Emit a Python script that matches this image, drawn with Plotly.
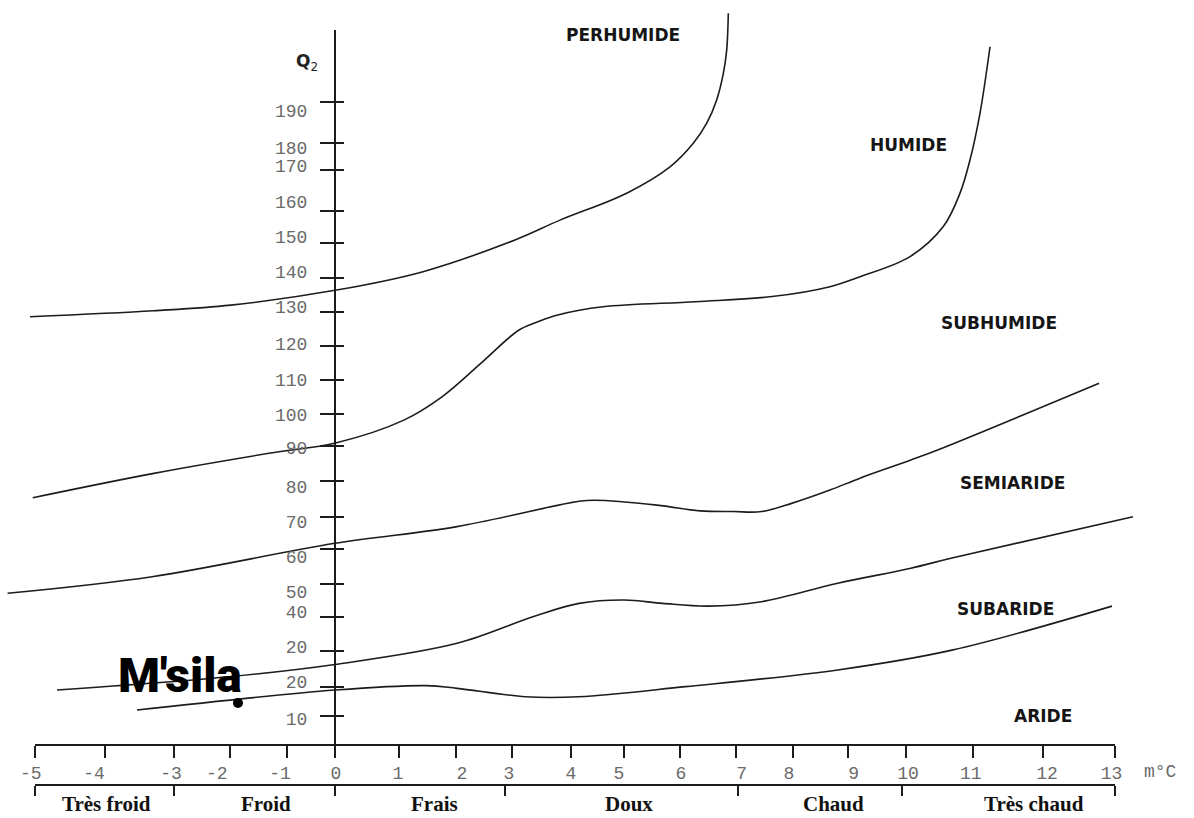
import plotly.graph_objects as go

# ---------------- data ----------------
# mean minimum temperature of the coldest month (m, °C) axis
TEMP_TICK_LABELS = ['-5', '-4', '-3', '-2', '-1', '0', '1', '2', '3', '4', '5', '6',
                    '7', '8', '9', '10', '11', '12', '13']
TEMP_TICK_POS = [-5.0, -3.833, -2.683, -1.749, -0.799, 0.0, 1.069, 2.019, 2.948, 3.936,
                 4.820, 5.754, 6.688, 7.633, 8.555, 9.522, 10.639, 11.806, 13.0]
TEMP_LABEL_POS = [-5.070, -4.016, -2.733, -1.971, -0.915, 0.015, 1.052, 2.119, 2.903,
                  3.936, 4.737, 5.767, 6.782, 7.571, 8.650, 9.555, 10.600, 11.872, 12.948]

# Emberger quotient Q2 axis
Q2_TICK_LABELS = ['190', '180', '170', '160', '150', '140', '130', '120', '110', '100',
                  '90', '80', '70', '60', '50', '40', '20', '20', '10']
Q2_TICK_POS = [190.0, 177.8, 170.0, 158.1, 148.5, 138.4, 128.5, 118.5, 108.4, 98.4,
               89.1, 78.9, 68.4, 58.8, 48.7, 39.1, 29.0, 18.6, 10.0]
Q2_LABEL_POS = [187.3, 176.5, 171.2, 160.7, 150.4, 140.2, 129.9, 119.0, 108.5, 98.4,
                88.5, 77.2, 66.8, 56.7, 46.3, 40.5, 30.3, 20.0, 9.1]

# thermal variants (lower scale)
THERMAL_BOUNDS = [-5.0, -2.683, 0.0, 2.836, 6.716, 9.460, 13.0]
THERMAL_NAMES = ['Très froid', 'Froid', 'Frais', 'Doux', 'Chaud', 'Très chaud']
THERMAL_LABEL_POS = [-3.816, -1.149, 1.660, 4.905, 8.305, 11.657]

# bioclimatic limits (m °C, Q2)
PERHUMIDE_HUMIDE_T = [-5.083, -3.019, -1.736, 0.027, 1.469, 3.003, 3.753, 4.865, 5.587,
                      5.975, 6.199, 6.365, 6.476, 6.532, 6.559]
PERHUMIDE_HUMIDE_Q = [127.0, 128.75, 130.4, 134.8, 140.2, 149.5, 155.3, 163.2, 170.9,
                      177.8, 183.7, 190.5, 198.3, 205.1, 215.9]

HUMIDE_SUBHUMIDE_T = [-5.038, -3.019, -1.099, 0.027, 1.149, 1.791, 2.432, 3.069, 3.395,
                      3.715, 4.470, 6.010, 7.288, 8.254, 8.755, 9.588, 10.143, 10.422,
                      10.588, 10.755, 10.922]
HUMIDE_SUBHUMIDE_Q = [73.96, 81.1, 86.97, 90.08, 96.7, 103.6, 113.3, 123.1, 125.6,
                      127.5, 129.9, 131.4, 132.9, 135.8, 138.7, 144.6, 153.4, 163.2,
                      172.9, 186.6, 206.1]

SUBHUMIDE_SEMIARIDE_T = [-5.457, -3.049, 0.002, 2.036, 4.070, 4.330, 5.370, 6.087, 6.651,
                         7.114, 7.613, 8.254, 8.755, 9.602, 10.113, 12.741]
SUBHUMIDE_SEMIARIDE_Q = [45.95, 50.8, 60.6, 65.5, 72.9, 73.2, 71.8, 70.1, 69.9,
                         69.9, 72.3, 76.2, 79.7, 85.0, 88.4, 107.5]

SEMIARIDE_SUBARIDE_T = [-4.633, -1.774, 0.002, 2.036, 3.303, 4.070, 4.828, 5.463, 6.220,
                        7.114, 8.384, 9.602, 10.288, 13.306]
SEMIARIDE_SUBARIDE_Q = [17.6, 21.5, 25.1, 31.3, 39.1, 43.0, 44.0, 43.0, 42.2,
                        43.5, 48.9, 53.3, 56.3, 68.4]

SUBARIDE_ARIDE_T = [-3.299, 0.002, 1.527, 2.036, 3.178, 4.066, 5.845, 8.384, 10.288, 12.956]
SUBARIDE_ARIDE_Q = [11.75, 17.6, 18.9, 18.1, 15.65, 15.65, 18.6, 23.5, 29.3, 42.2]

ZONE_NAMES = ['PERHUMIDE', 'HUMIDE', 'SUBHUMIDE', 'SEMIARIDE', 'SUBARIDE', 'ARIDE']
ZONE_LABEL_T = [4.803, 9.560, 11.070, 11.300, 11.172, 11.810]
ZONE_LABEL_Q = [209.5, 177.3, 125.2, 78.4, 41.5, 10.0]

STATION_NAME = "M'sila"
STATION_T = [-1.616]
STATION_Q = [13.8]
STATION_LABEL_T = -2.583
STATION_LABEL_Q = 22.0

# ---------------- geometry of the page ----------------
W, H = 1194, 818
PX_X0, PX_PER_DEG = 334.9, 59.98      # pixel of m = 0, pixels per unit
PX_Q0, PX_PER_Q = 750.128, 3.4128     # pixel of Q2 = 0, pixels per unit


def t_at(px):
    return (px - PX_X0) / PX_PER_DEG


def q_at(py):
    return (PX_Q0 - py) / PX_PER_Q


AXIS_X_PX = 745      # main horizontal axis
THERM_X_PX = 785     # thermal-variant scale line
THERM_LABEL_PX = 804
Y_TOP_PX, Y_BOT_PX = 30, 758

INK = '#1c1c1c'
TICK_FONT = dict(family='Liberation Mono, DejaVu Sans Mono, monospace', size=18, color='#6a6a6a')

fig = go.Figure()

curves = [
    (PERHUMIDE_HUMIDE_T, PERHUMIDE_HUMIDE_Q),
    (HUMIDE_SUBHUMIDE_T, HUMIDE_SUBHUMIDE_Q),
    (SUBHUMIDE_SEMIARIDE_T, SUBHUMIDE_SEMIARIDE_Q),
    (SEMIARIDE_SUBARIDE_T, SEMIARIDE_SUBARIDE_Q),
    (SUBARIDE_ARIDE_T, SUBARIDE_ARIDE_Q),
]
for t, q in curves:
    fig.add_trace(go.Scatter(x=t, y=q, mode='lines', xaxis='x', yaxis='y',
                             line=dict(color=INK, width=1.6, shape='spline', smoothing=1.0),
                             hoverinfo='skip', showlegend=False))

fig.add_trace(go.Scatter(x=STATION_T, y=STATION_Q, mode='markers', xaxis='x', yaxis='y',
                         marker=dict(size=10, color='black'), showlegend=False,
                         name=STATION_NAME))

# helper traces so that the drawn axes exist
for xa, ya in [('x2', 'y2'), ('x3', 'y2'), ('x2', 'y3')]:
    fig.add_trace(go.Scatter(x=[None], y=[None], xaxis=xa, yaxis=ya, mode='lines',
                             showlegend=False, hoverinfo='skip'))

x_dom = [(PX_X0 + PX_PER_DEG * THERMAL_BOUNDS[0]) / W, (PX_X0 + PX_PER_DEG * THERMAL_BOUNDS[-1]) / W]
y_dom = [(H - Y_BOT_PX) / H, (H - Y_TOP_PX) / H]
y_pos = PX_X0 / W

common = dict(showgrid=False, zeroline=False, tickmode='array')

annotations = []
for name, t, q in zip(ZONE_NAMES, ZONE_LABEL_T, ZONE_LABEL_Q):
    annotations.append(dict(x=t, y=q, xref='x', yref='y', text=name, showarrow=False,
                            xanchor='center', yanchor='middle',
                            font=dict(family='DejaVu Sans, Liberation Sans, sans-serif',
                                      size=17, color='#151515', weight='bold')))
for name, t in zip(THERMAL_NAMES, THERMAL_LABEL_POS):
    annotations.append(dict(x=t, y=(H - THERM_LABEL_PX) / H, xref='x', yref='paper', text=name,
                            showarrow=False, xanchor='center', yanchor='middle',
                            font=dict(family='Liberation Serif, DejaVu Serif, serif',
                                      size=21, color='#111', weight='bold')))
annotations.append(dict(x=t_at(1160), y=(H - 772) / H, xref='x', yref='paper', text='m°C',
                        showarrow=False, xanchor='center', yanchor='middle', font=TICK_FONT))
annotations.append(dict(x=t_at(307), y=q_at(62), xref='x', yref='y',
                        text='<b>Q</b><sub>2</sub>', showarrow=False,
                        xanchor='center', yanchor='middle',
                        font=dict(family='DejaVu Sans, sans-serif', size=17, color='#222')))
annotations.append(dict(x=STATION_LABEL_T, y=STATION_LABEL_Q, xref='x', yref='y',
                        text=STATION_NAME, showarrow=False, xanchor='center', yanchor='middle',
                        font=dict(family='Roboto, Liberation Sans, sans-serif',
                                  size=48, color='black', weight=900)))

fig.update_layout(
    width=W, height=H, autosize=False,
    margin=dict(l=0, r=0, t=0, b=0, pad=0),
    paper_bgcolor='white', plot_bgcolor='rgba(0,0,0,0)',
    showlegend=False,
    xaxis=dict(domain=[0, 1], range=[t_at(0), t_at(W)], anchor='free',
               position=(H - AXIS_X_PX) / H, showline=False,
               tickvals=TEMP_LABEL_POS, ticktext=TEMP_TICK_LABELS,
               ticks='outside', ticklen=11, tickcolor='rgba(0,0,0,0)',
               tickfont=TICK_FONT, **common),
    yaxis=dict(domain=[0, 1], range=[q_at(H), q_at(0)], anchor='free',
               position=y_pos, side='left', showline=False,
               tickvals=Q2_LABEL_POS, ticktext=Q2_TICK_LABELS,
               ticks='outside', ticklen=24, tickcolor='rgba(0,0,0,0)',
               tickfont=TICK_FONT, **common),
    xaxis2=dict(domain=x_dom, range=[THERMAL_BOUNDS[0], THERMAL_BOUNDS[-1]], anchor='free',
                position=(H - AXIS_X_PX) / H, showline=True, linecolor=INK, linewidth=2,
                tickvals=TEMP_TICK_POS, showticklabels=False,
                ticks='outside', ticklen=12, tickwidth=2, tickcolor=INK, **common),
    xaxis3=dict(overlaying='x2', range=[THERMAL_BOUNDS[0], THERMAL_BOUNDS[-1]], anchor='free',
                position=(H - THERM_X_PX) / H, showline=True, linecolor=INK, linewidth=2,
                tickvals=THERMAL_BOUNDS, showticklabels=False,
                ticks='outside', ticklen=10, tickwidth=2, tickcolor=INK, **common),
    yaxis2=dict(domain=y_dom, range=[q_at(Y_BOT_PX), q_at(Y_TOP_PX)], anchor='free',
                position=y_pos, side='left', showline=True, linecolor=INK, linewidth=2,
                tickvals=Q2_TICK_POS, showticklabels=False,
                ticks='outside', ticklen=14, tickwidth=2, tickcolor=INK, **common),
    yaxis3=dict(overlaying='y2', range=[q_at(Y_BOT_PX), q_at(Y_TOP_PX)], anchor='free',
                position=y_pos, side='left', showline=False,
                tickvals=Q2_TICK_POS, showticklabels=False,
                ticks='inside', ticklen=8, tickwidth=2, tickcolor=INK, **common),
    annotations=annotations,
)

fig.write_html("out.html", config={'displayModeBar': False},
               post_script="document.body.style.margin='0';document.body.style.overflow='hidden';")
